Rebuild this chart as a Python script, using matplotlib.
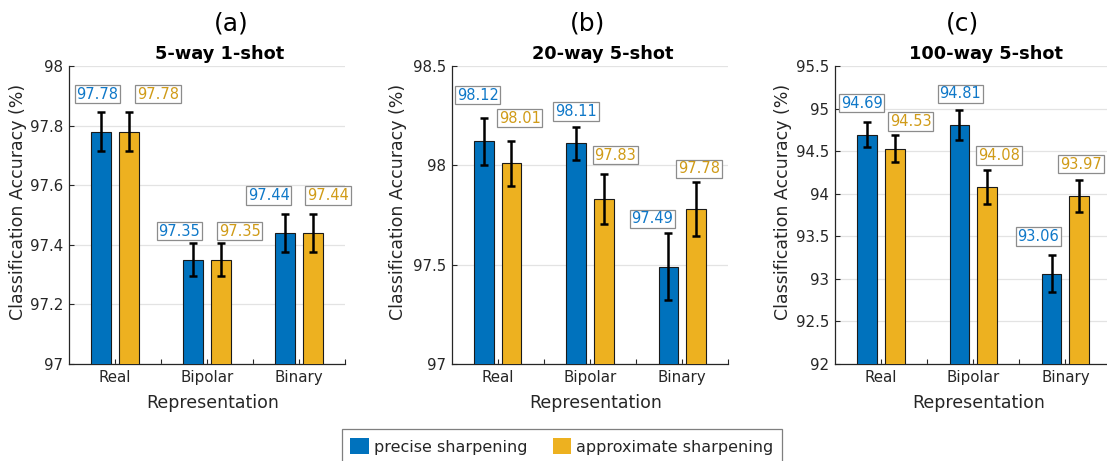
import matplotlib
matplotlib.use("Agg")
import matplotlib.pyplot as plt
from matplotlib.patches import Patch
from matplotlib.ticker import FixedLocator, FuncFormatter
import numpy as np

# ---------------- data ----------------
categories = ["Real", "Bipolar", "Binary"]
panel_letters = ["(a)", "(b)", "(c)"]
panel_titles = ["5-way 1-shot", "20-way 5-shot", "100-way 5-shot"]
series_names = ["precise sharpening", "approximate sharpening"]

precise_a = [97.78, 97.35, 97.44]
approx_a = [97.78, 97.35, 97.44]
precise_a_err = [0.064, 0.055, 0.064]
approx_a_err = [0.064, 0.055, 0.064]

precise_b = [98.12, 98.11, 97.49]
approx_b = [98.01, 97.83, 97.78]
precise_b_err = [0.118, 0.082, 0.170]
approx_b_err = [0.114, 0.124, 0.135]

precise_c = [94.69, 94.81, 93.06]
approx_c = [94.53, 94.08, 93.97]
precise_c_err = [0.147, 0.175, 0.220]
approx_c_err = [0.160, 0.200, 0.190]

ylims = [(97, 98), (97, 98.5), (92, 95.5)]
yticks = [[97, 97.2, 97.4, 97.6, 97.8, 98],
          [97, 97.5, 98, 98.5],
          [92, 92.5, 93, 93.5, 94, 94.5, 95, 95.5]]

# ---------------- layout / style ----------------
W, H = 1107, 461
DPI = 100
PX = 72.0 / DPI  # points per pixel

BLUE = "#0072BD"
YELLOW = "#EDB120"
BLUE_TXT = "#0F78C8"
YELLOW_TXT = "#D09B18"
DARK = "#262626"

# label offsets (pixels) relative to (bar centre, top of error bar)
label_offsets = [
    [[(-3.6, 18.3), (-13.9, 12.3), (-16.5, 18.3)], [(29.2, 18.3), (18.9, 12.3), (15.3, 18.3)]],
    [[(-6.0, 23.0), (0.0, 15.7), (-15.8, 14.0)], [(8.2, 22.6), (11.5, 19.3), (2.8, 13.3)]],
    [[(-5.6, 19.3), (0.7, 16.0), (-13.4, 18.3)], [(15.6, 13.3), (12.0, 14.4), (1.8, 16.0)]],
]
axes_left_px = [69, 451.5, 835]
axes_width_px = [276, 276.8, 276.5]
letter_x_px = [231, 588, 962]
ylabel_x = [-0.152, -0.161, -0.157]

plt.rcParams["font.family"] = ["DejaVu Sans"]
fig = plt.figure(figsize=(W / DPI, H / DPI), dpi=DPI)

panels = [
    (precise_a, approx_a, precise_a_err, approx_a_err),
    (precise_b, approx_b, precise_b_err, approx_b_err),
    (precise_c, approx_c, precise_c_err, approx_c_err),
]

bottom_frac = (H - 364) / H
height_frac = 298 / H
x = np.arange(1, len(categories) + 1)
bw = 0.212
off = 0.15

for i, (pv, av, pe, ae) in enumerate(panels):
    ax = fig.add_axes([axes_left_px[i] / W, bottom_frac, axes_width_px[i] / W, height_frac])
    ax.set_xlim(0.5, 3.5)
    ax.set_ylim(*ylims[i])
    series = [(pv, pe, BLUE, BLUE_TXT, -off), (av, ae, YELLOW, YELLOW_TXT, off)]
    for s, (vals, errs, col, tcol, dx) in enumerate(series):
        xs = x + dx
        ax.bar(xs, vals, width=bw, color=col, edgecolor="#1a1a1a", linewidth=0.8, zorder=3)
        ax.errorbar(xs, vals, yerr=errs, fmt="none", ecolor="black", elinewidth=1.8,
                    capsize=3.2, capthick=1.8, zorder=4)
        for k in range(len(vals)):
            ox, oy = label_offsets[i][s][k]
            ax.annotate(f"{vals[k]:.2f}", xy=(xs[k], vals[k] + errs[k]),
                        xytext=(ox * PX, oy * PX), textcoords="offset points",
                        ha="center", va="center", fontsize=10.5, color=tcol,
                        bbox=dict(boxstyle="square,pad=0.12", fc="white", ec="#8c8c8c", lw=0.9),
                        zorder=6, annotation_clip=False)
    # axes styling
    for sp in ["top", "right"]:
        ax.spines[sp].set_visible(False)
    for sp in ["left", "bottom"]:
        ax.spines[sp].set_color(DARK)
        ax.spines[sp].set_linewidth(0.9)
    ax.set_yticks(yticks[i])
    ax.yaxis.set_major_formatter(FuncFormatter(lambda v, p: f"{v:g}"))
    ax.xaxis.set_major_locator(FixedLocator(list(x)))
    ax.set_xticklabels(categories)
    ax.xaxis.set_minor_locator(FixedLocator([1.5, 2.5, 3.5]))
    ax.tick_params(axis="both", which="both", direction="in", length=3.5, width=0.8,
                   color=DARK, labelcolor=DARK, labelsize=10.8)
    ax.tick_params(axis="y", pad=4)
    ax.tick_params(axis="x", pad=4)
    ax.grid(axis="y", color="#e3e3e3", linewidth=0.9, zorder=0)
    ax.set_axisbelow(True)
    ax.set_ylabel("Classification Accuracy (%)", fontsize=12.5, color=DARK)
    ax.yaxis.set_label_coords(ylabel_x[i], 0.545)
    ax.set_xlabel("Representation", fontsize=12.5, color=DARK, va="top")
    ax.xaxis.set_label_coords(0.521, -0.099)
    ax.set_title(panel_titles[i], fontsize=12.8, fontweight="bold", x=0.547, pad=4.8)
    fig.text(letter_x_px[i] / W, (H - 30) / H, panel_letters[i], fontsize=18,
             ha="center", va="baseline", color="black")

handles = [Patch(facecolor=BLUE, edgecolor="none"), Patch(facecolor=YELLOW, edgecolor="none")]
leg = fig.legend(handles, series_names, loc="upper center", ncol=2,
                 bbox_to_anchor=(561.7 / W, (H - 429.3) / H), fontsize=11.5,
                 handlelength=1.17, handleheight=1.17, handletextpad=0.29,
                 columnspacing=1.59, borderpad=0.55, borderaxespad=0.0,
                 fancybox=False, framealpha=1, edgecolor="#7f7f7f")
leg.get_frame().set_linewidth(0.9)
for t in leg.get_texts():
    t.set_color(DARK)

fig.savefig("out.png", dpi=DPI)
